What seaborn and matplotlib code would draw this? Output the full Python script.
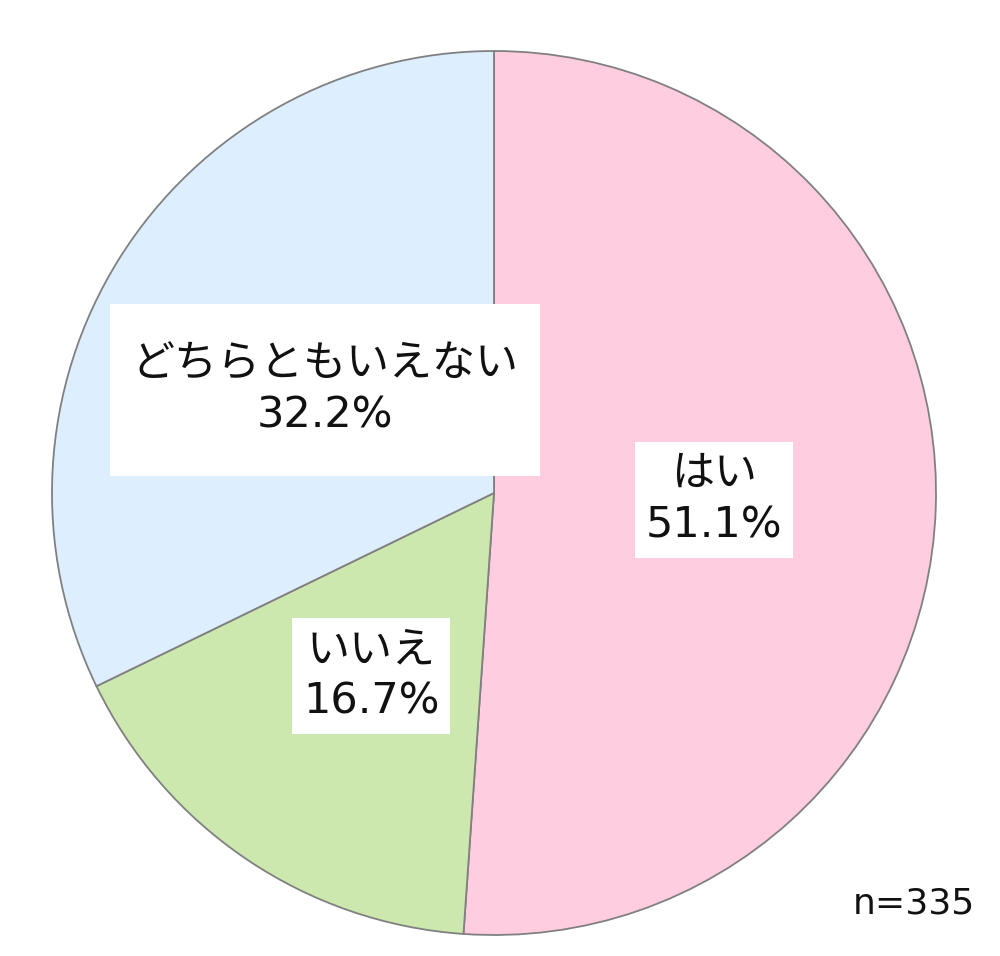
"""
Pie chart of answers (n=335), labels in white boxes.
"""

import matplotlib
matplotlib.use('Agg')
import matplotlib.pyplot as plt
import seaborn as sns


########  data  ########

LABELS = ['はい', 'いいえ', 'どちらともいえない']
VALUES = [51.1, 16.7, 32.2]
COLORS = ['#FFCCE0', '#CDE8AF', '#DDEEFF']
N_TEXT = 'n=335'

# label box centres, in pixels of the 1000x956 canvas (x right, y down)
LABEL_POS = [(714, 500), (371, 676), (325, 390)]
LABEL_PAD = [0.25, 0.25, 0.5]
LABEL_ASPECT = [1.0, 1.0, 1.8]   # extra vertical padding on the big box

CENTER = (494, 493)
RADIUS = 442

FIG_W, FIG_H, DPI = 10, 9.56, 100

########################


sns.set_theme(style='white')
plt.rcParams['font.family'] = ['DejaVu Sans', 'Noto Sans CJK JP']

fig = plt.figure(figsize=(FIG_W, FIG_H), dpi=DPI)
ax = fig.add_axes([0, 0, 1, 1])

H = FIG_H * DPI
ax.pie(VALUES, colors=COLORS, startangle=90, counterclock=False,
       center=(CENTER[0], H - CENTER[1]), radius=RADIUS, frame=True,
       wedgeprops=dict(edgecolor='#808080', linewidth=1.3))
ax.set_xlim(0, FIG_W * DPI)
ax.set_ylim(0, H)
ax.set_aspect('equal')
ax.axis('off')

for lab, val, (x, y), pad, asp in zip(LABELS, VALUES, LABEL_POS,
                                      LABEL_PAD, LABEL_ASPECT):
    ax.text(x, H - y, f'{lab}\n{val:.1f}%', ha='center', va='center',
            fontsize=31, linespacing=1.3, color='#111111',
            bbox=dict(boxstyle=f'square,pad={pad}', fc='white', ec='none',
                      mutation_aspect=asp))

ax.text(975, H - 903, N_TEXT, ha='right', va='center', fontsize=26,
        color='#111111')

plt.savefig('out.png', dpi=DPI)
plt.close()
